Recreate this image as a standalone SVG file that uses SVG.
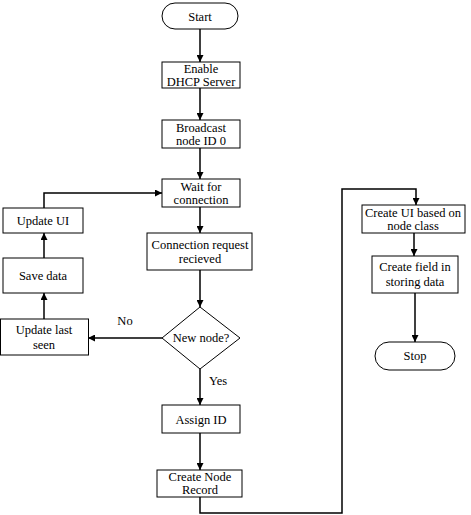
<svg xmlns="http://www.w3.org/2000/svg" width="471" height="515" viewBox="0 0 471 515">
<style>
.b{fill:#fff;stroke:#000;stroke-width:1}
text{font-family:'Liberation Serif','Times New Roman',Times,serif;font-size:12.5px;fill:#000;text-anchor:middle}
.c{fill:none;stroke:#000;stroke-width:1.5}
</style>
<defs>
<marker id="a" viewBox="0 0 10 10" refX="10" refY="5" markerWidth="7" markerHeight="7" markerUnits="userSpaceOnUse" orient="auto">
<path d="M0,0 L10,5 L0,10 z" fill="#000"/>
</marker>
</defs>
<rect width="471" height="515" fill="#fff"/>
<g id="connectors">
<path class="c" d="M200,29 V62" marker-end="url(#a)"/>
<path class="c" d="M200,88 V120" marker-end="url(#a)"/>
<path class="c" d="M200,148 V179" marker-end="url(#a)"/>
<path class="c" d="M200,207 V233" marker-end="url(#a)"/>
<path class="c" d="M200,270 V307" marker-end="url(#a)"/>
<path class="c" d="M162,338 H88" marker-end="url(#a)"/>
<path class="c" d="M44,319 V293" marker-end="url(#a)"/>
<path class="c" d="M44,258 V233" marker-end="url(#a)"/>
<path class="c" d="M44,208 V193 H162" marker-end="url(#a)"/>
<path class="c" d="M200,369 V405" marker-end="url(#a)"/>
<path class="c" d="M200,433 V470" marker-end="url(#a)"/>
<path class="c" d="M200,497 V513 H342 V189 H416 V205" marker-end="url(#a)"/>
<path class="c" d="M414,233 V256" marker-end="url(#a)"/>
<path class="c" d="M415,293 V342" marker-end="url(#a)"/>
<text x="125" y="325" font-family="Liberation Serif, serif">No</text>
<text x="218" y="385" font-family="Liberation Serif, serif">Yes</text>
</g>
<g id="start"><rect class="b" x="162" y="3" width="76" height="26" rx="13"/><text x="200" y="21">Start</text></g>
<g id="dhcp"><rect class="b" x="162" y="62" width="78" height="26"/><text x="201" y="73">Enable</text><text x="201" y="86">DHCP Server</text></g>
<g id="broadcast"><rect class="b" x="162" y="120" width="78" height="28"/><text x="201" y="132">Broadcast</text><text x="201" y="145">node ID 0</text></g>
<g id="wait"><rect class="b" x="162" y="179" width="78" height="28"/><text x="201" y="191">Wait for</text><text x="201" y="204">connection</text></g>
<g id="request"><rect class="b" x="147" y="233" width="105" height="37"/><text x="200" y="249">Connection request</text><text x="200" y="263">recieved</text></g>
<g id="newnode"><polygon class="b" points="200,307 240,338 200,369 162,338"/><text x="201" y="342">New node?</text></g>
<g id="lastseen"><rect class="b" x="0.5" y="319" width="88" height="36"/><text x="44" y="334">Update last</text><text x="44" y="349">seen</text></g>
<g id="save"><rect class="b" x="3" y="258" width="80" height="35"/><text x="43" y="280">Save data</text></g>
<g id="updateui"><rect class="b" x="3" y="208" width="80" height="25"/><text x="43" y="225">Update UI</text></g>
<g id="assign"><rect class="b" x="162" y="405" width="78" height="28"/><text x="201" y="424">Assign ID</text></g>
<g id="record"><rect class="b" x="157" y="470" width="85" height="27"/><text x="200" y="481">Create Node</text><text x="200" y="494">Record</text></g>
<g id="createui"><rect class="b" x="362" y="205" width="103" height="28"/><text x="413" y="217">Create UI based on</text><text x="413" y="230">node class</text></g>
<g id="field"><rect class="b" x="372" y="256" width="86" height="37"/><text x="415" y="271">Create field in</text><text x="415" y="286">storing data</text></g>
<g id="stop"><rect class="b" x="375" y="342" width="80" height="28" rx="14"/><text x="415" y="360">Stop</text></g>
</svg>
